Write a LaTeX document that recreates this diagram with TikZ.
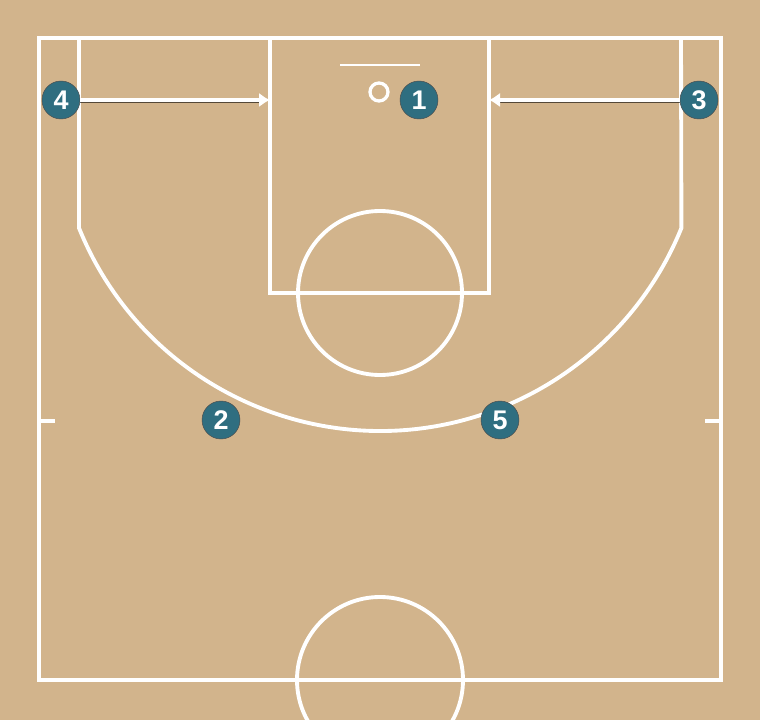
\documentclass[tikz,border=0pt]{standalone}
\usepackage{fontspec}
\setmainfont{Liberation Sans}
\usetikzlibrary{arrows.meta}
\definecolor{floor}{RGB}{210,180,140}
\definecolor{chip}{RGB}{47,110,128}
\definecolor{shade}{RGB}{150,118,84}

\begin{document}
\begin{tikzpicture}[x=0.03cm, y=0.03cm,
    court/.style={draw=white, line width=3.3pt},
    player/.style={circle, draw=black!70, thin, fill=chip, text=white, minimum size=38*0.03cm, inner sep=0pt, font=\fontsize{23}{23}\selectfont\bfseries},
    move/.style={draw=white, line width=2.8pt, -{Latex[length=0.33cm,width=0.44cm]}}]
    \fill[floor] (0,0) rectangle (760,720);
    \useasboundingbox (0,0) rectangle (760,720);
    \begin{scope}
    \clip (0,0) rectangle (760,720);
    \draw[court] (39,40) rectangle (721,682);
    \draw[court] (79,682) -- (79,492) arc[start angle=202.06, end angle=337.94, radius=325] -- (681,682);
    \draw[court] (270,682) -- (270,427) -- (489,427) -- (489,682);
    \draw[court] (380,427) circle[radius=82];
    \draw[court, line width=1.5pt] (340,655) -- (420,655);
    \draw[court, line width=2.8pt] (379,628) circle[radius=9];
    \draw[court] (39,299) -- (55,299);
    \draw[court] (705,299) -- (721,299);
    \draw[court] (380,40) circle[radius=83];
    \end{scope}
    \coordinate (l4) at (270,620);
    \coordinate (l3) at (489,620);
    % players
    \node[player] (p1) at (419,620) {1};
    \node[player] (p2) at (221,300) {2};
    \node[player] (p3) at (699,620) {3};
    \node[player] (p4) at (61,620) {4};
    \node[player] (p5) at (500,300) {5};
    % cuts to the lane
    \draw[shade, line width=1.8pt, opacity=0.6] ([yshift=-0.07cm]p4.east) -- ([yshift=-0.07cm,xshift=-0.33cm]l4);
    \draw[shade, line width=1.8pt, opacity=0.6] ([yshift=-0.07cm]p3.west) -- ([yshift=-0.07cm,xshift=0.33cm]l3);
    \draw[move] (p4) -- (l4);
    \draw[move] (p3) -- (l3);
\end{tikzpicture}
\end{document}
